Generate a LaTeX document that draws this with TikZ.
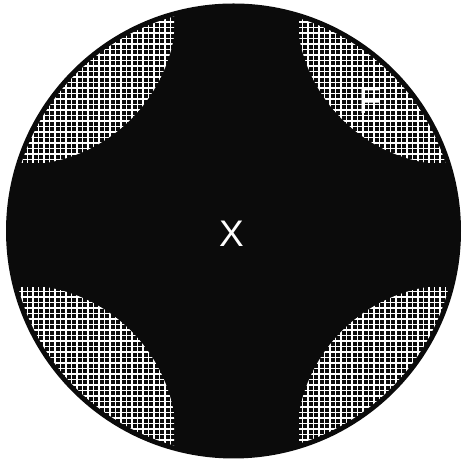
\documentclass[tikz,border=0pt]{standalone}
\usepackage{fontspec}
\setmainfont{Liberation Sans}
\usepackage{tikz}
\definecolor{inkbg}{HTML}{0B0B0B}

\begin{document}
\begin{tikzpicture}[
  x=1pt, y=1pt,
  disc/.style={fill=inkbg},
  meshline/.style={draw=white, line width=1.4pt, step=5.5pt},
  lbl/.style={text=white, font=\fontsize{37}{40}\selectfont, inner sep=0pt}
]
  \useasboundingbox (0,0) rectangle (464,462);
  \coordinate (mid) at (233.5,231);
  \fill[disc] (mid) circle (227.5pt);

  % four hatched corners: clip box, fillet circle centre
  \foreach \ax/\ay/\bx/\by/\cx/\cy in {0/299/174/462/20.5/453, 299/299/464/462/452.5/453,
      0/0/174/174/20.5/21, 299/0/464/174/452.5/21}{
    \begin{scope}
      \clip (mid) circle (222.5pt);
      \clip (\ax,\ay) rectangle (\bx,\by);
      \clip (\cx,\cy) circle (156pt);
      \draw[meshline] (0,0) grid (464,462);
    \end{scope}
  }

  \node[lbl] (core) at (231.5,228.5) {X};
  \node[lbl] (fill) at (370,361.5) {F};
\end{tikzpicture}
\end{document}
